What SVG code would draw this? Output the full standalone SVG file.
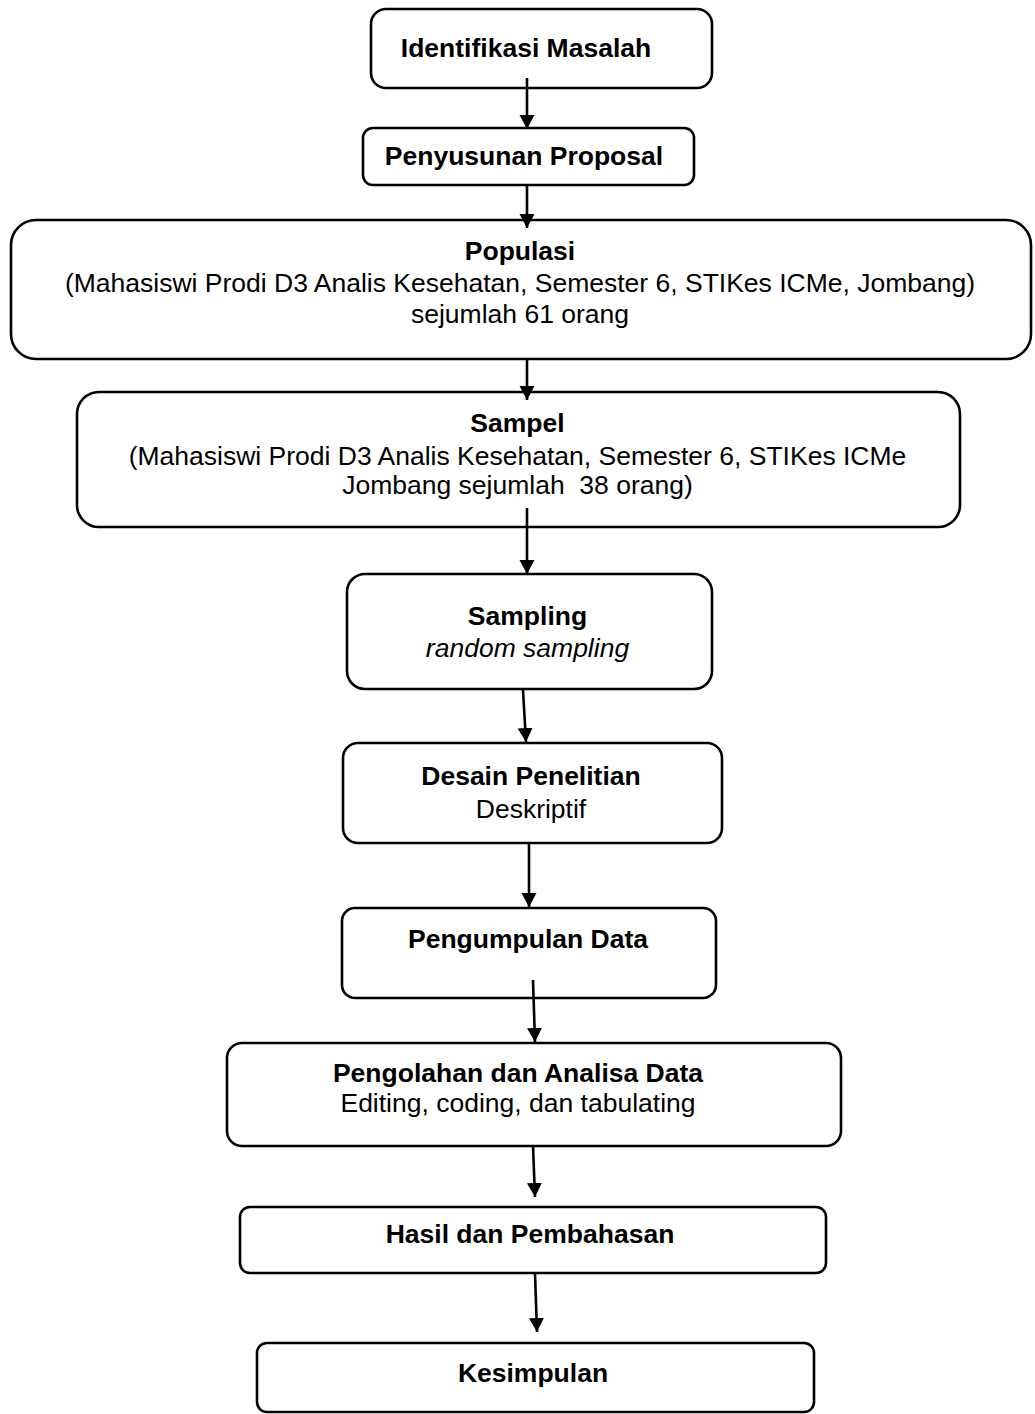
<svg xmlns="http://www.w3.org/2000/svg" width="1035" height="1414" viewBox="0 0 1035 1414">
<style>
.box{fill:#fff;stroke:#000;stroke-width:2.6}
.t{font-family:"Liberation Sans",Arial,sans-serif;font-size:26.5px;fill:#000;text-anchor:middle;white-space:pre}
.b{font-weight:bold}
.i{font-style:italic}
.c{stroke:#000;stroke-width:2.6;fill:none;marker-end:url(#ah)}
</style>
<defs>
<marker id="ah" markerUnits="userSpaceOnUse" markerWidth="16" markerHeight="16" viewBox="0 0 16 16" refX="14" refY="8" orient="auto">
<path d="M0,0.5 L14,8 L0,15.5 Z" fill="#000"/>
</marker>
</defs>
<rect width="1035" height="1414" fill="#fff"/>
<g id="n1"><rect class="box" x="371" y="9" width="341" height="79" rx="15"/><text class="t b" x="526" y="57">Identifikasi Masalah</text></g>
<g id="n2"><rect class="box" x="363" y="128" width="331" height="57" rx="10"/><text class="t b" x="524" y="165">Penyusunan Proposal</text></g>
<g id="n3"><rect class="box" x="11" y="220" width="1020" height="139" rx="25"/><text class="t b" x="520" y="260">Populasi</text><text class="t" x="520" y="292">(Mahasiswi Prodi D3 Analis Kesehatan, Semester 6, STIKes ICMe, Jombang)</text><text class="t" x="520" y="323">sejumlah 61 orang</text></g>
<g id="n4"><rect class="box" x="77" y="392" width="883" height="135" rx="22"/><text class="t b" x="517.5" y="432">Sampel</text><text class="t" x="517.5" y="465">(Mahasiswi Prodi D3 Analis Kesehatan, Semester 6, STIKes ICMe</text><text class="t" x="517.5" y="494">Jombang sejumlah  38 orang)</text></g>
<g id="n5"><rect class="box" x="347" y="574" width="365" height="115" rx="18"/><text class="t b" x="527.5" y="625">Sampling</text><text class="t i" x="527.5" y="657">random sampling</text></g>
<g id="n6"><rect class="box" x="343" y="743" width="379" height="100" rx="15"/><text class="t b" x="531" y="785">Desain Penelitian</text><text class="t" x="531" y="818">Deskriptif</text></g>
<g id="n7"><rect class="box" x="342" y="908" width="374" height="90" rx="13"/><text class="t b" x="528" y="948">Pengumpulan Data</text></g>
<g id="n8"><rect class="box" x="227" y="1043" width="614" height="103" rx="15"/><text class="t b" x="518" y="1082">Pengolahan dan Analisa Data</text><text class="t" x="518" y="1112">Editing, coding, dan tabulating</text></g>
<g id="n9"><rect class="box" x="240" y="1207" width="586" height="66" rx="10"/><text class="t b" x="530" y="1243">Hasil dan Pembahasan</text></g>
<g id="n10"><rect class="box" x="257" y="1343" width="557" height="69" rx="10"/><text class="t b" x="533" y="1382">Kesimpulan</text></g>
<g id="connectors">
<line class="c" x1="527" y1="78" x2="527" y2="129"/>
<line class="c" x1="527" y1="185" x2="527" y2="228"/>
<line class="c" x1="527" y1="360" x2="527" y2="400"/>
<line class="c" x1="527" y1="508" x2="527" y2="574"/>
<line class="c" x1="523" y1="690" x2="526" y2="742"/>
<line class="c" x1="529" y1="843" x2="529" y2="907"/>
<line class="c" x1="533" y1="980" x2="535" y2="1042"/>
<line class="c" x1="533" y1="1146" x2="535" y2="1197"/>
<line class="c" x1="535" y1="1273" x2="537" y2="1332"/>
</g>
</svg>
